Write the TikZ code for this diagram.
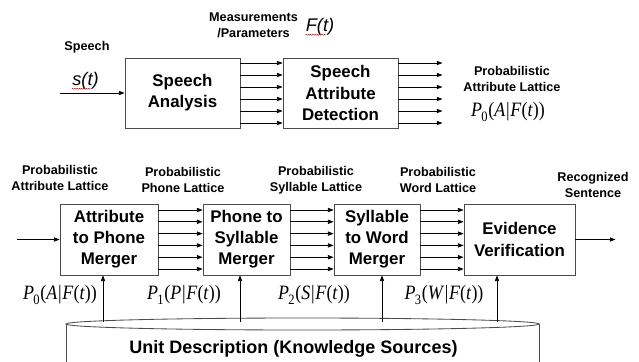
\documentclass[tikz,border=0pt]{standalone}
\usepackage{fontspec}
\setmainfont{Liberation Sans}
\newfontfamily\probfont{Liberation Serif}[FakeStretch=0.88]
\usetikzlibrary{arrows.meta,calc,decorations.pathmorphing}

%% lattice probability P_i(X|F(t))
\newcommand{\plat}[2]{{\probfont\fontsize{14.5}{16}\selectfont\textit{P}\kern-0.5pt\raisebox{-1.5pt}{\textsubscript{#1}}(\textit{#2}\kern0.5pt|\kern0.5pt\textit{F}(\textit{t}))}}

\begin{document}
\begin{tikzpicture}[x=0.025cm, y=-0.025cm,
  blk/.style={draw=black!70, line width=0.6pt, inner sep=0pt, align=center, font=\fontsize{12}{15}\selectfont\bfseries},
  lbl/.style={inner sep=0pt, align=center, font=\fontsize{9}{11.3}\selectfont\bfseries},
  sig/.style={inner sep=0pt, font=\fontsize{13}{15}\selectfont\itshape},
  prob/.style={inner sep=0pt},
  flow/.style={-{Triangle[length=4pt,width=3pt]}, line width=0.5pt},
  squiggle/.style={red!80!black, line width=0.3pt, decorate, decoration={snake, amplitude=0.35pt, segment length=1.6pt}}
]
  \useasboundingbox (0,0) rectangle (639,362);

  %% Front end
  \node[blk, minimum width=2.875cm, minimum height=1.75cm] (spa) at (182.5,93) {Speech\\Analysis};
  \node[blk, minimum width=2.875cm, minimum height=1.75cm] (sad) at (340.5,93) {Speech\\Attribute\\Detection};

  \node[lbl] (speech) at (87,47) {Speech};
  \node[sig] (st) at (85.5,81) {s(t)};
  \node[lbl] (meas) at (253.5,25.5) {Measurements\\/Parameters};
  \node[sig] (ft) at (320,27) {F(t)};
  \node[lbl] (alat) at (512,79) {Probabilistic\\Attribute Lattice};
  \node[prob] (p0top) at (508,112) {\plat{0}{A}};

  \draw[squiggle] ($(st.south west)+(0,-1)$) -- ++(19,0);
  \draw[squiggle] ($(ft.south west)+(0,-1)$) -- ++(20,0);

  \coordinate (in1) at (60,93);
  \draw[flow] (in1) -- (spa.west);
  \foreach \dy in {-30,-18,-6,6,18,30}{
    \draw[flow] ($(spa.east)+(0,\dy)$) -- ($(sad.west)+(0,\dy)$);
    \draw[flow] ($(sad.east)+(0,\dy)$) -- ++(44,0);
  }

  %% Merger chain
  \node[blk, minimum width=2.45cm,  minimum height=1.775cm] (apm) at (109,239.5)   {Attribute\\to Phone\\Merger};
  \node[blk, minimum width=2.175cm, minimum height=1.775cm] (psm) at (246.5,239.5) {Phone to\\Syllable\\Merger};
  \node[blk, minimum width=2.15cm,  minimum height=1.775cm] (swm) at (377,239.5)   {Syllable\\to Word\\Merger};
  \node[blk, minimum width=2.775cm, minimum height=1.775cm] (ev)  at (519.5,239.5) {Evidence\\Verification};

  \node[lbl] (l1) at (60,178)  {Probabilistic\\Attribute Lattice};
  \node[lbl] (l2) at (183,180) {Probabilistic\\Phone Lattice};
  \node[lbl] (l3) at (316,180) {Probabilistic\\Syllable Lattice};
  \node[lbl] (l4) at (438,180) {Probabilistic\\Word Lattice};
  \node[lbl] (rs) at (593,185) {Recognized\\Sentence};

  \coordinate (in2) at (17,239.5);
  \draw[flow] (in2) -- (apm.west);
  \foreach \a/\b in {apm/psm, psm/swm, swm/ev}{
    \foreach \dy in {-29.5,-17.7,-5.9,5.9,17.7,29.5}
      \draw[flow] ($(\a.east)+(0,\dy)$) -- ($(\b.west)+(0,\dy)$);
  }
  \draw[flow] (ev.east) -- ++(40,0);

  \node[prob] (pa) at (60,295)  {\plat{0}{A}};
  \node[prob] (pp) at (184,295) {\plat{1}{P}};
  \node[prob] (ps) at (314,295) {\plat{2}{S}};
  \node[prob] (pw) at (444,295) {\plat{3}{W}};

  %% Knowledge sources store
  \draw[draw=black!70, line width=0.6pt] (302.5,324) ellipse [x radius=5.9125cm, y radius=0.15cm];
  \draw[draw=black!70, line width=0.6pt] (66,324) -- (66,364) (539,324) -- (539,364);
  \node[inner sep=0pt, font=\fontsize{12.8}{15}\selectfont\bfseries] (kb) at (293.5,349) {Unit Description (Knowledge Sources)};

  \foreach \x/\b in {103/apm, 240/psm, 382/swm, 497/ev}{
    \coordinate (k\b) at (\x,322);
    \draw[flow] (k\b) -- (k\b |- \b.south);
  }
\end{tikzpicture}
\end{document}
